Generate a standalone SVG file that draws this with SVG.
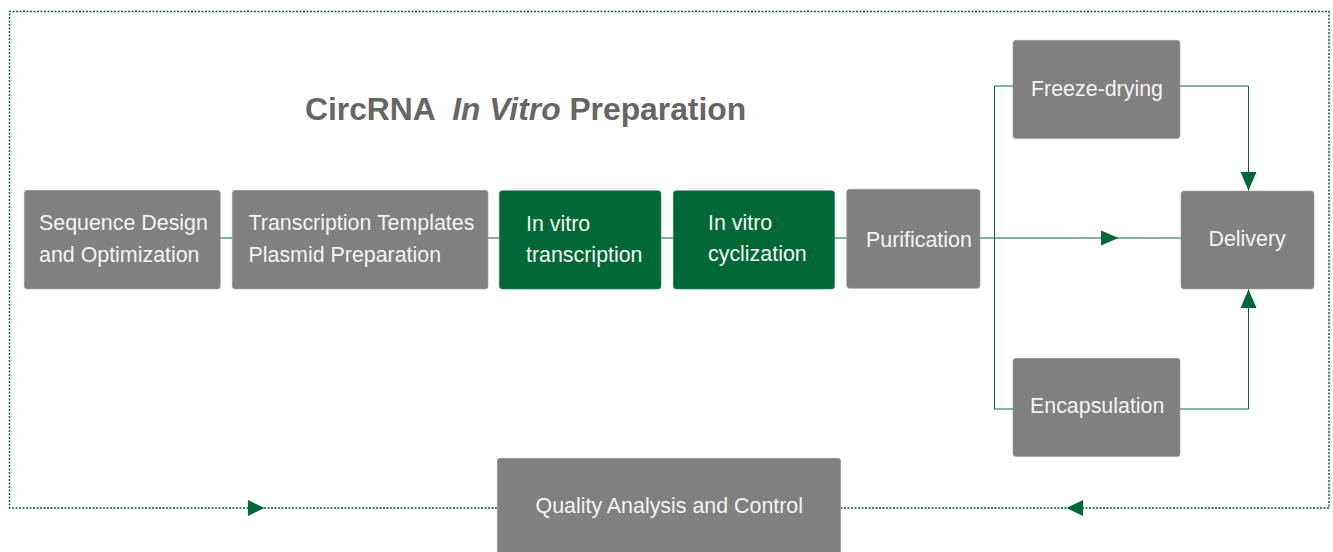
<svg xmlns="http://www.w3.org/2000/svg" width="1333" height="552" viewBox="0 0 1333 552">
<style>
.g{fill:#808080;stroke:#9a9a9a;stroke-width:0.6}
.d{fill:#006837;stroke:#2e8a57;stroke-width:0.6}
.t{font-family:"Liberation Sans",Arial,sans-serif;font-size:21.4px;fill:#f4f4f4}
.c{fill:none;stroke:#006837;stroke-width:1}
.dot{fill:none;stroke:#006837;stroke-width:1.5;stroke-dasharray:2 1.5}
.ah{fill:#006837}
</style>
<rect width="1333" height="552" fill="#ffffff"/>
<g id="connectors">
<path class="dot" d="M497,508 H9.5 V11.5 H1329 V508 H841"/>
<polygon class="ah" points="248,500 264.5,508 248,516"/>
<polygon class="ah" points="1083,500 1066.5,508 1083,516"/>
<path class="c" d="M220,238 H232 M488,238 H499 M661,238 H673 M834.5,238 H847"/>
<path class="c" d="M980,238 H1181"/>
<polygon class="ah" points="1101,230.5 1118.5,238 1101,245.5"/>
<path class="c" d="M1013,86 H994.5 V409 H1013"/>
<path class="c" d="M1180,86 H1248.5 V191"/>
<polygon class="ah" points="1240.5,172 1248.5,190.5 1256.5,172"/>
<path class="c" d="M1180,409 H1248.5 V289"/>
<polygon class="ah" points="1240.5,308 1248.5,289.5 1256.5,308"/>
</g>
<g id="title">
<text x="305" y="119.5" font-family="'Liberation Sans',Arial,sans-serif" font-size="31.8" font-weight="bold" fill="#666666" xml:space="preserve">CircRNA  <tspan font-style="italic">In Vitro</tspan> Preparation</text>
</g>
<g id="n-seq">
<rect class="g" x="24.3" y="190.3" width="196" height="98.7" rx="3"/>
<text class="t" x="39" y="230">Sequence Design</text>
<text class="t" x="39" y="262">and Optimization</text>
</g>
<g id="n-template">
<rect class="g" x="232.3" y="190.3" width="255.7" height="98.7" rx="3"/>
<text class="t" x="248.5" y="230">Transcription Templates</text>
<text class="t" x="248.5" y="262">Plasmid Preparation</text>
</g>
<g id="n-ivt">
<rect class="d" x="499.3" y="190.7" width="161.7" height="98.3" rx="3"/>
<text class="t" x="526" y="230.5">In vitro</text>
<text class="t" x="526" y="261.5">transcription</text>
</g>
<g id="n-ivc">
<rect class="d" x="673.3" y="190.7" width="161.3" height="98.3" rx="3"/>
<text class="t" x="708" y="229.5">In vitro</text>
<text class="t" x="708" y="261">cyclization</text>
</g>
<g id="n-pur">
<rect class="g" x="846.7" y="189.3" width="133.3" height="99" rx="3"/>
<text class="t" x="866" y="247">Purification</text>
</g>
<g id="n-freeze">
<rect class="g" x="1013" y="40.3" width="167" height="98.3" rx="3"/>
<text class="t" x="1031" y="95.5">Freeze-drying</text>
</g>
<g id="n-delivery">
<rect class="g" x="1181" y="191" width="133" height="98" rx="3"/>
<text class="t" x="1208.5" y="246">Delivery</text>
</g>
<g id="n-encap">
<rect class="g" x="1013" y="358.3" width="167" height="98.3" rx="3"/>
<text class="t" x="1030" y="412.5">Encapsulation</text>
</g>
<g id="n-qa">
<rect class="g" x="497.3" y="458.3" width="343.3" height="100" rx="3"/>
<text class="t" x="535.5" y="512.5">Quality Analysis and Control</text>
</g>
</svg>
